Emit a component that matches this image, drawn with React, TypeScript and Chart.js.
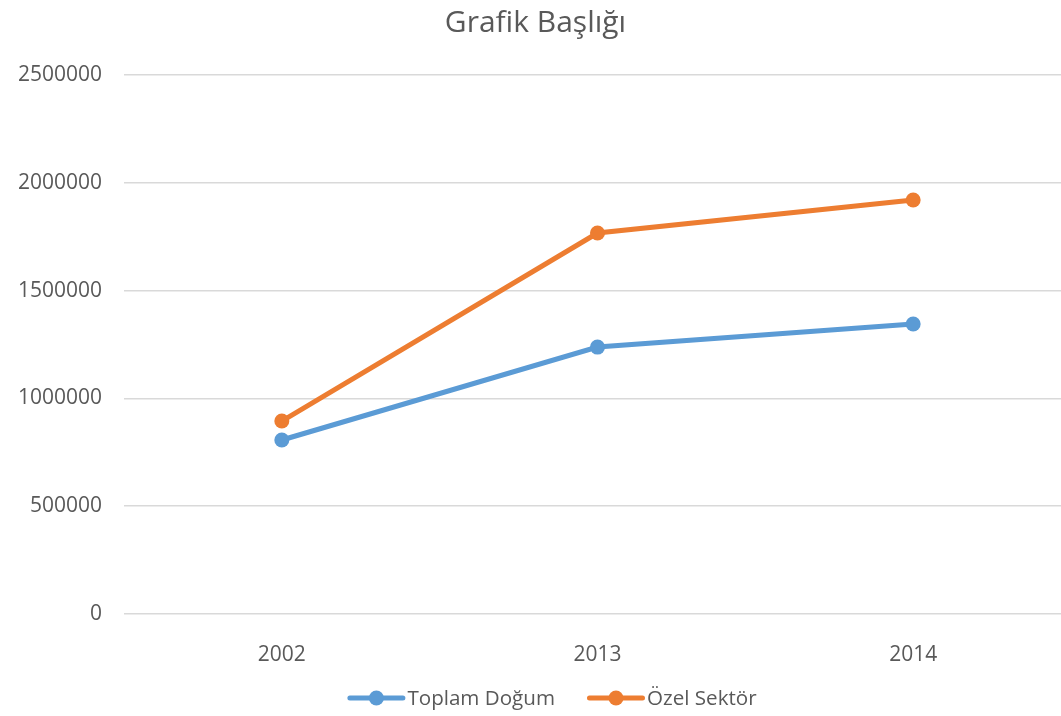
import React, { useEffect, useRef } from "react";
import { Chart, registerables } from "chart.js";

Chart.register(...registerables);

const categories = ["2002", "2013", "2014"];
const toplamDogum = [807000, 1238000, 1345000];
const ozelSektor = [895000, 1767000, 1920000];
const seriesNames = ["Toplam Doğum", "Özel Sektör"];
const seriesColors = ["#5B9BD5", "#ED7D31"];
const yTicks = [0, 500000, 1000000, 1500000, 2000000, 2500000];
const titleText = "Grafik Başlığı";

const FONT = '"Open Sans", "DejaVu Sans", sans-serif';
const TEXT = "#595959";

const legendPlugin = {
  id: "customLegend",
  afterDraw(chart: any) {
    const ctx = chart.ctx as CanvasRenderingContext2D;
    ctx.save();
    ctx.font = `20.6px ${FONT}`;
    const iconW = 58;
    const gapText = 2;
    const gapItem = 32;
    const items = chart.data.datasets.map((ds: any) => ({
      label: ds.label as string,
      color: ds.borderColor as string,
      w: ctx.measureText(ds.label).width,
    }));
    let total = 0;
    items.forEach((it: any, i: number) => {
      total += iconW + gapText + it.w + (i > 0 ? gapItem : 0);
    });
    let x = chart.width / 2 - total / 2;
    const y = 698;
    items.forEach((it: any) => {
      ctx.strokeStyle = it.color;
      ctx.lineWidth = 5;
      ctx.lineCap = "round";
      ctx.beginPath();
      ctx.moveTo(x + 2.5, y);
      ctx.lineTo(x + iconW - 2.5, y);
      ctx.stroke();
      ctx.fillStyle = it.color;
      ctx.beginPath();
      ctx.arc(x + iconW / 2, y, 7.5, 0, Math.PI * 2);
      ctx.fill();
      ctx.fillStyle = TEXT;
      ctx.textBaseline = "middle";
      ctx.textAlign = "left";
      ctx.fillText(it.label, x + iconW + gapText, y + 1.5);
      x += iconW + gapText + it.w + gapItem;
    });
    ctx.restore();
  },
};

export default function App() {
  const ref = useRef<HTMLCanvasElement | null>(null);

  useEffect(() => {
    if (!ref.current) return;
    const series = [toplamDogum, ozelSektor];
    const chart = new Chart(ref.current, {
      type: "line",
      data: {
        labels: categories,
        datasets: series.map((data, i) => ({
          label: seriesNames[i],
          data,
          borderColor: seriesColors[i],
          backgroundColor: seriesColors[i],
          pointBackgroundColor: seriesColors[i],
          pointBorderColor: seriesColors[i],
          borderWidth: 5,
          pointRadius: 7.5,
          pointBorderWidth: 0,
          tension: 0,
          fill: false,
        })),
      },
      options: {
        responsive: false,
        animation: false,
        devicePixelRatio: 1,
        layout: { padding: { left: 0, right: 33, top: 0, bottom: 52 } },
        plugins: {
          legend: { display: false },
          tooltip: { enabled: false },
          title: {
            display: true,
            text: titleText,
            color: TEXT,
            font: { family: FONT, size: 30, weight: "normal" },
            padding: { top: 5, bottom: 34 },
          },
        },
        scales: {
          x: {
            offset: true,
            grid: { display: false },
            border: { display: false },
            ticks: {
              color: TEXT,
              font: { family: FONT, size: 21 },
              padding: 20,
            },
            afterFit: (s: any) => {
              s.height = 50;
            },
          },
          y: {
            min: 0,
            max: 2500000,
            grid: { color: "#D9D9D9", lineWidth: 1.5, drawTicks: false },
            border: { display: false },
            afterBuildTicks: (s: any) => {
              s.ticks = yTicks.map((v) => ({ value: v }));
            },
            ticks: {
              color: TEXT,
              font: { family: FONT, size: 21 },
              padding: 22,
              callback: (v: any) => String(v),
            },
            afterFit: (s: any) => {
              s.width = 124;
            },
          },
        },
      },
      plugins: [legendPlugin],
    });
    (document as any).fonts?.ready?.then(() => chart.update());
    return () => chart.destroy();
  }, []);

  return (
    <div
      style={{
        position: "fixed",
        left: 0,
        top: 0,
        width: 1061,
        height: 716,
        overflow: "hidden",
        background: "#fff",
      }}
    >
      <canvas ref={ref} width={1104} height={716} style={{ display: "block" }} />
    </div>
  );
}
